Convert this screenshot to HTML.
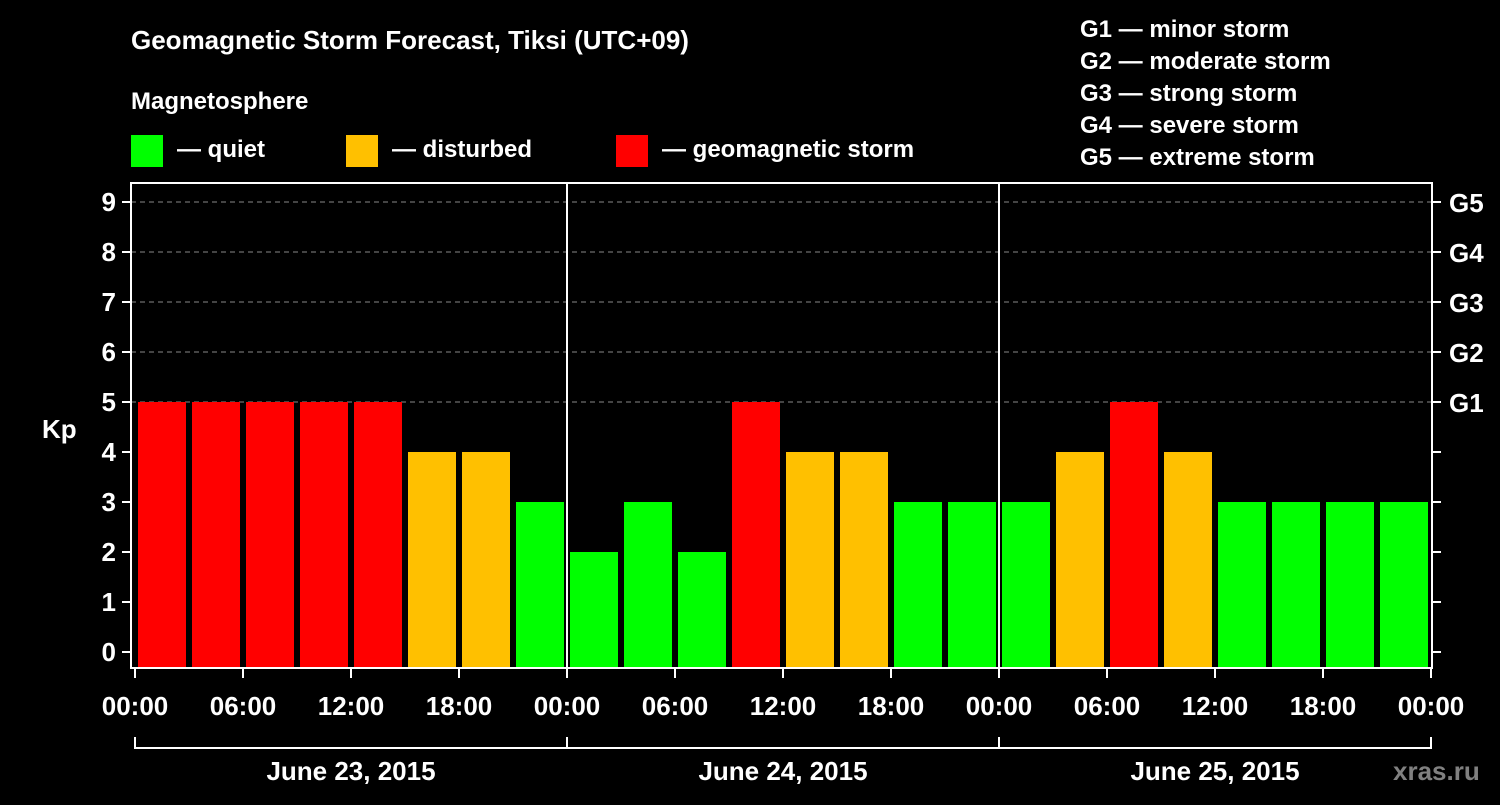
<!DOCTYPE html>
<html><head><meta charset="utf-8"><style>
body{margin:0;background:#000;}
svg text{font-family:"Liberation Sans",Arial,sans-serif;font-weight:bold;fill:#fff;}
</style></head><body>
<svg id="c" width="1500" height="800" xmlns="http://www.w3.org/2000/svg">
<rect width="1500" height="800" fill="#000"/>
<text x="131" y="49" font-size="26">Geomagnetic Storm Forecast, Tiksi (UTC+09)</text>
<text x="131" y="109" font-size="24">Magnetosphere</text>
<g><rect x="131" y="135" width="32" height="32" fill="#00ff00"/><text x="177" y="157" font-size="24">— quiet</text></g>
<g><rect x="346" y="135" width="32" height="32" fill="#ffc000"/><text x="392" y="157" font-size="24">— disturbed</text></g>
<g><rect x="616" y="135" width="32" height="32" fill="#ff0000"/><text x="662" y="157" font-size="24">— geomagnetic storm</text></g>
<g font-size="24">
<text x="1080" y="37">G1 — minor storm</text>
<text x="1080" y="69">G2 — moderate storm</text>
<text x="1080" y="101">G3 — strong storm</text>
<text x="1080" y="133">G4 — severe storm</text>
<text x="1080" y="165">G5 — extreme storm</text>
</g>
<text x="42" y="438" font-size="26">Kp</text>
<text x="1393" y="780" font-size="26" style="fill:#808080">xras.ru</text>
<g id="plot"></g>
</svg>
<script>
const kpValues=[5,5,5,5,5,4,4,3, 2,3,2,5,4,4,3,3, 3,4,5,4,3,3,3,3];
const timeLabels=["00:00","06:00","12:00","18:00","00:00","06:00","12:00","18:00","00:00","06:00","12:00","18:00","00:00"];
const dayLabels=["June 23, 2015","June 24, 2015","June 25, 2015"];
const yTicks=[0,1,2,3,4,5,6,7,8,9];
const gLabels=["G1","G2","G3","G4","G5"];
const NS="http://www.w3.org/2000/svg";
const g=document.getElementById('plot');
const X0=135,SLOT=54,L=131,R=1432,T=183,B=668;
const y=v=>652-v*50;
const x=i=>X0+i*SLOT;
function mk(t,a,p){const e=document.createElementNS(NS,t);for(const k in a)e.setAttribute(k,a[k]);(p||g).appendChild(e);return e;}
// gridlines
yTicks.forEach(v=>{
  if(v>=5){const l=mk('line',{x1:L,x2:R,y1:y(v),y2:y(v),stroke:'#888','stroke-width':1,'stroke-dasharray':'5,4'});
  
  }
  const t=mk('line',{x1:L-9,x2:L,y1:y(v),y2:y(v),stroke:'#fff','stroke-width':2});
  
  
  const tx=mk('text',{x:L-15,y:y(v)+9,'font-size':26,'text-anchor':'end'});tx.textContent=v;
  
  
  const rt=mk('line',{x1:R,x2:R+9,y1:y(v),y2:y(v),stroke:'#fff','stroke-width':2});
  
  
  if(v>=5){const gl=mk('text',{x:R+17,y:y(v)+10,'font-size':26});gl.textContent=gLabels[v-5];
  
  }
});
// bars
kpValues.forEach((v,i)=>{
  const c=v>=5?'#ff0000':(v==4?'#ffc000':'#00ff00');
  const r=mk('rect',{x:x(i)+3,y:y(v),width:48,height:B-y(v),fill:c});
  
  
});
// day dividers
[1,2].forEach(d=>{const l=mk('line',{x1:x(d*8),x2:x(d*8),y1:T,y2:B,stroke:'#fff','stroke-width':2});
  
  });
const fr=mk('rect',{x:L,y:T,width:R-L,height:B-T,fill:'none',stroke:'#fff','stroke-width':2});


// x ticks
timeLabels.forEach((s,i)=>{
  const xx=x(i*2);
  const t=mk('line',{x1:xx,x2:xx,y1:B,y2:B+10,stroke:'#fff','stroke-width':2});
  
  
  const tx=mk('text',{x:xx,y:715,'font-size':26,'text-anchor':'middle'});tx.textContent=s;
  
  
});
// day bracket
const bl=mk('line',{x1:x(0),x2:x(24),y1:748,y2:748,stroke:'#fff','stroke-width':2});


dayLabels.forEach((s,d)=>{
  [d*8,(d+1)*8].forEach(k=>{const t=mk('line',{x1:x(k),x2:x(k),y1:737,y2:749,stroke:'#fff','stroke-width':2});
  
  });
  const tx=mk('text',{x:(x(d*8)+x(d*8+8))/2,y:780,'font-size':26,'text-anchor':'middle'});tx.textContent=s;
  
  
});
</script>
</body></html>
